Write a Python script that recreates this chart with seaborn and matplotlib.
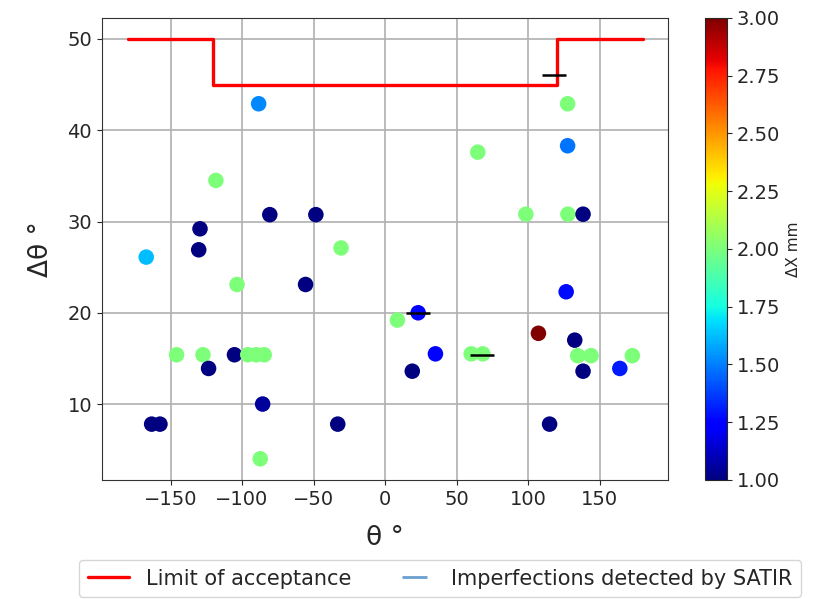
import matplotlib
matplotlib.use('Agg')

import matplotlib.pyplot as plt
import seaborn as sns
import pandas as pd
from matplotlib.lines import Line2D

sns.set_style("ticks")

# imperfections: angle, angular spread, size
theta = [-167, -163.2, -157.4, -145.8, -130.3, -129.4, -127.3, -123.4, -118.3,
         -105.3, -103.5, -96, -90, -84.5, -88.4, -87.3, -85.6, -80.6, -55.6,
         -48.4, -33.1, -30.8, 8.6, 19, 23.1, 35.2, 60.2, 64.8, 68.3, 98.4,
         107.2, 115, 126.6, 127.6, 127.6, 127.8, 132.6, 134.7, 138.4, 138.4,
         144, 164.1, 172.9]
dtheta = [26.1, 7.8, 7.8, 15.4, 26.9, 29.2, 15.4, 13.9, 34.5,
          15.4, 23.1, 15.4, 15.4, 15.4, 42.9, 4.0, 10.0, 30.75, 23.1,
          30.75, 7.8, 27.1, 19.2, 13.6, 20.0, 15.5, 15.5, 37.6, 15.5, 30.8,
          17.75, 7.8, 22.3, 42.9, 38.3, 30.8, 17.0, 15.3, 30.8, 13.6,
          15.3, 13.9, 15.3]
dx = [1.62, 1.0, 1.0, 2.0, 1.0, 1.0, 2.0, 1.0, 2.0,
      1.0, 2.0, 2.0, 2.0, 2.0, 1.52, 2.0, 1.05, 1.0, 1.0,
      1.0, 1.0, 2.0, 2.0, 1.0, 1.25, 1.25, 2.0, 2.0, 2.0, 2.0,
      3.0, 1.0, 1.27, 2.0, 1.48, 2.0, 1.0, 2.0, 1.0, 1.0,
      2.0, 1.3, 2.0]

# SATIR detections
satir_theta = [118, 23, 68]
satir_dtheta = [46.1, 20.0, 15.4]

# acceptance limit
limit_theta = [-180, -120, -120, 120, 120, 180]
limit_dtheta = [50, 50, 45, 45, 50, 50]

df = pd.DataFrame({'theta': theta, 'dtheta': dtheta, 'dx': dx})
jet = matplotlib.colormaps['jet']

fig = plt.figure(figsize=(8.15, 5.99), dpi=100)
ax = fig.add_axes([0.125, 0.199, 0.695, 0.771])
ax.set_axisbelow(True)
ax.grid(True, color='#b0b0b0', linewidth=1.2)

ax.plot(limit_theta, limit_dtheta, color='red', linewidth=2.4, zorder=2)
sns.scatterplot(data=df, x='theta', y='dtheta', hue='dx', palette=jet,
                hue_norm=(1, 3), s=125, linewidth=0, legend=False, ax=ax, zorder=3)
ax.scatter(satir_theta, satir_dtheta, marker='_', color='black', s=300,
           linewidths=1.8, zorder=4)

ax.set_xticks([-150, -100, -50, 0, 50, 100, 150])
ax.set_yticks([10, 20, 30, 40, 50])
ax.tick_params(labelsize=14)
for side in ax.spines.values():
    side.set_color('#333333')
ax.set_xlabel("θ °", fontsize=19, labelpad=12)
ax.set_ylabel("Δθ °", fontsize=19, labelpad=10)

cax = fig.add_axes([0.865, 0.199, 0.027, 0.771])
sm = plt.cm.ScalarMappable(cmap=jet, norm=plt.Normalize(1, 3))
cb = fig.colorbar(sm, cax=cax, ticks=[1, 1.25, 1.5, 1.75, 2, 2.25, 2.5, 2.75, 3],
                  format='%.2f')
cb.ax.tick_params(labelsize=14)
cb.set_label("ΔX mm", fontsize=11)

handles = [Line2D([], [], color='red', linewidth=2.4),
           Line2D([], [], color='#6a9fd0', marker='_', linestyle='None',
                  markersize=18, markeredgewidth=2)]
fig.legend(handles, ["Limit of acceptance", "Imperfections detected by SATIR"],
           loc='center', bbox_to_anchor=(0.54, 0.034), ncol=2, fontsize=15)

fig.savefig("out.png", dpi=100)
